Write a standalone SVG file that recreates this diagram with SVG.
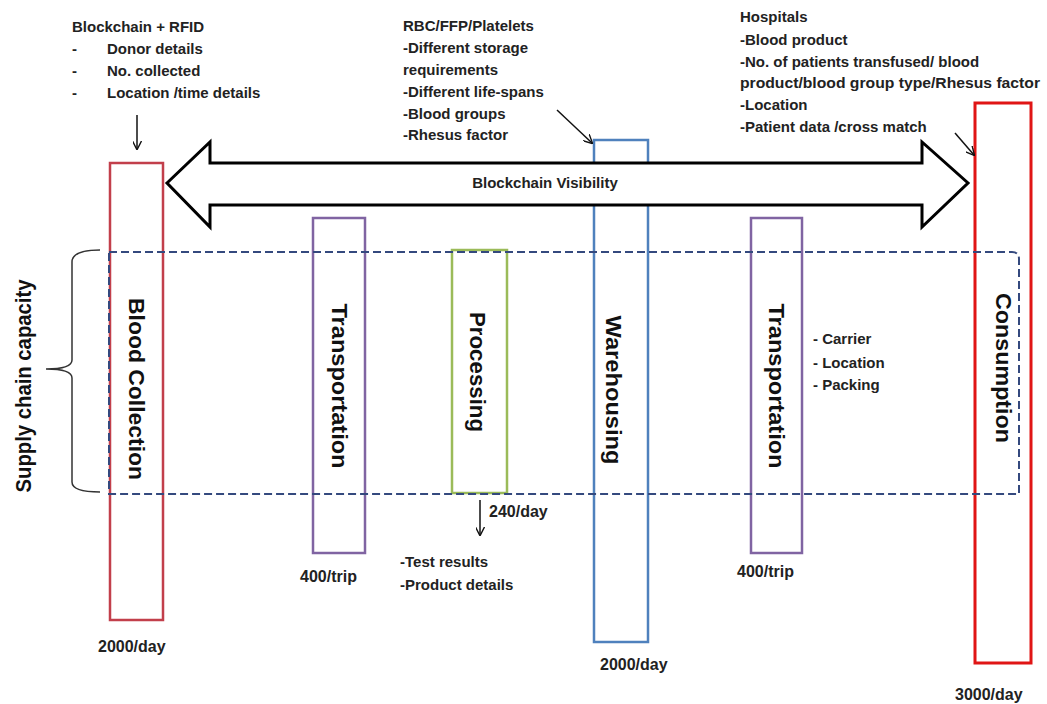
<svg xmlns="http://www.w3.org/2000/svg" width="1047" height="704" viewBox="0 0 1047 704">
<style>
.t{font-family:"Liberation Sans",Arial,sans-serif;font-weight:bold;font-size:15px;fill:#222}
.n{font-family:"Liberation Sans",Arial,sans-serif;font-weight:bold;font-size:16px;fill:#222}
.v{font-family:"Liberation Sans",Arial,sans-serif;font-weight:bold;font-size:22px;fill:#111}
.box{fill:none}
.cn{stroke:#111;stroke-width:1.5;fill:none}
</style>
<defs>
<marker id="ah" viewBox="0 0 10 10" refX="9" refY="5" markerWidth="9" markerHeight="9" orient="auto" markerUnits="userSpaceOnUse">
<path d="M0,0 L10,5 L0,10" fill="none" stroke="#111" stroke-width="1.5"/>
</marker>
</defs>
<rect width="1047" height="704" fill="#fff"/>

<g id="warehousing">
<rect class="box" x="594" y="140" width="54" height="502" stroke="#4f81bd" stroke-width="2.5"/>
</g>

<g id="visibility">
<path d="M167,183 L210,142 L210,163 L922,163 L922,142 L968,183 L922,227 L922,205 L210,205 L210,227 Z" fill="#fff" stroke="#000" stroke-width="3" stroke-linejoin="miter"/>
<text class="t" x="545" y="188" text-anchor="middle" font-size="14">Blockchain Visibility</text>
</g>

<g id="warehousing-label">
<text class="v" transform="translate(606,390) rotate(90)" text-anchor="middle" textLength="149" lengthAdjust="spacingAndGlyphs">Warehousing</text>
</g>

<g id="blood-collection">
<rect class="box" x="110" y="163" width="53" height="457" stroke="#c23f4b" stroke-width="2.5"/>
<text class="v" transform="translate(129,389) rotate(90)" text-anchor="middle" textLength="182" lengthAdjust="spacingAndGlyphs">Blood Collection</text>
</g>

<g id="transportation-1">
<rect class="box" x="313" y="218" width="52" height="335" stroke="#8064a2" stroke-width="2.5"/>
<text class="v" transform="translate(332,386) rotate(90)" text-anchor="middle" textLength="165" lengthAdjust="spacingAndGlyphs">Transportation</text>
</g>

<g id="processing">
<rect class="box" x="452" y="250" width="55" height="243" stroke="#9bbb59" stroke-width="2.5"/>
<text class="v" transform="translate(470,372) rotate(90)" text-anchor="middle" textLength="120" lengthAdjust="spacingAndGlyphs">Processing</text>
</g>

<g id="transportation-2">
<rect class="box" x="751" y="218" width="51" height="335" stroke="#8064a2" stroke-width="2.5"/>
<text class="v" transform="translate(769,386) rotate(90)" text-anchor="middle" textLength="165" lengthAdjust="spacingAndGlyphs">Transportation</text>
</g>

<g id="consumption">
<rect class="box" x="975" y="103" width="56" height="560" stroke="#e01515" stroke-width="3"/>
<text class="v" transform="translate(996,368) rotate(90)" text-anchor="middle" textLength="150" lengthAdjust="spacingAndGlyphs">Consumption</text>
</g>

<g id="supply-chain">
<path d="M109,252 L1012,252 Q1019,252 1019,259 L1019,494 L109,494 Z" fill="none" stroke="#34497e" stroke-width="2" stroke-dasharray="8 4"/>
<path d="M100,250 C86,250 72,252 72,262 L72,360 C72,366 62,369 46,369 C62,369 72,372 72,378 L72,482 C72,490 86,492 100,492" fill="none" stroke="#333" stroke-width="1.5"/>
<text class="v" transform="translate(31,386) rotate(-90)" text-anchor="middle" font-size="20" textLength="213" lengthAdjust="spacingAndGlyphs">Supply chain capacity</text>
</g>

<g id="connectors">
<line class="cn" x1="137" y1="115" x2="137" y2="149" marker-end="url(#ah)"/>
<line class="cn" x1="557" y1="110" x2="592" y2="143" marker-end="url(#ah)"/>
<line class="cn" x1="955" y1="133" x2="974" y2="155" marker-end="url(#ah)"/>
<line class="cn" x1="480" y1="500" x2="480" y2="535" marker-end="url(#ah)"/>
</g>

<g id="notes-collection">
<text class="t" x="72" y="32">Blockchain + RFID</text>
<text class="t" x="72" y="54">-</text><text class="t" x="107" y="54">Donor details</text>
<text class="t" x="72" y="76">-</text><text class="t" x="107" y="76">No. collected</text>
<text class="t" x="72" y="98">-</text><text class="t" x="107" y="98">Location /time details</text>
</g>

<g id="notes-warehousing">
<text class="t" x="403" y="31">RBC/FFP/Platelets</text>
<text class="t" x="403" y="53">-Different storage</text>
<text class="t" x="403" y="75">requirements</text>
<text class="t" x="403" y="97">-Different life-spans</text>
<text class="t" x="403" y="119">-Blood groups</text>
<text class="t" x="403" y="140">-Rhesus factor</text>
</g>

<g id="notes-hospitals">
<text class="t" x="740" y="22">Hospitals</text>
<text class="t" x="740" y="45">-Blood product</text>
<text class="t" x="740" y="67">-No. of patients transfused/ blood</text>
<text class="t" x="740" y="88" textLength="300" lengthAdjust="spacingAndGlyphs">product/blood group type/Rhesus factor</text>
<text class="t" x="740" y="110">-Location</text>
<text class="t" x="740" y="132">-Patient data /cross match</text>
</g>

<g id="notes-transport">
<text class="t" x="813" y="344">- Carrier</text>
<text class="t" x="813" y="368">- Location</text>
<text class="t" x="813" y="390">- Packing</text>
</g>

<g id="notes-processing">
<text class="n" x="489" y="517">240/day</text>
<text class="t" x="400" y="567">-Test results</text>
<text class="t" x="400" y="590">-Product details</text>
</g>

<g id="capacities">
<text class="n" x="98" y="652">2000/day</text>
<text class="n" x="300" y="582">400/trip</text>
<text class="n" x="600" y="670">2000/day</text>
<text class="n" x="737" y="577">400/trip</text>
<text class="n" x="955" y="700">3000/day</text>
</g>
</svg>
